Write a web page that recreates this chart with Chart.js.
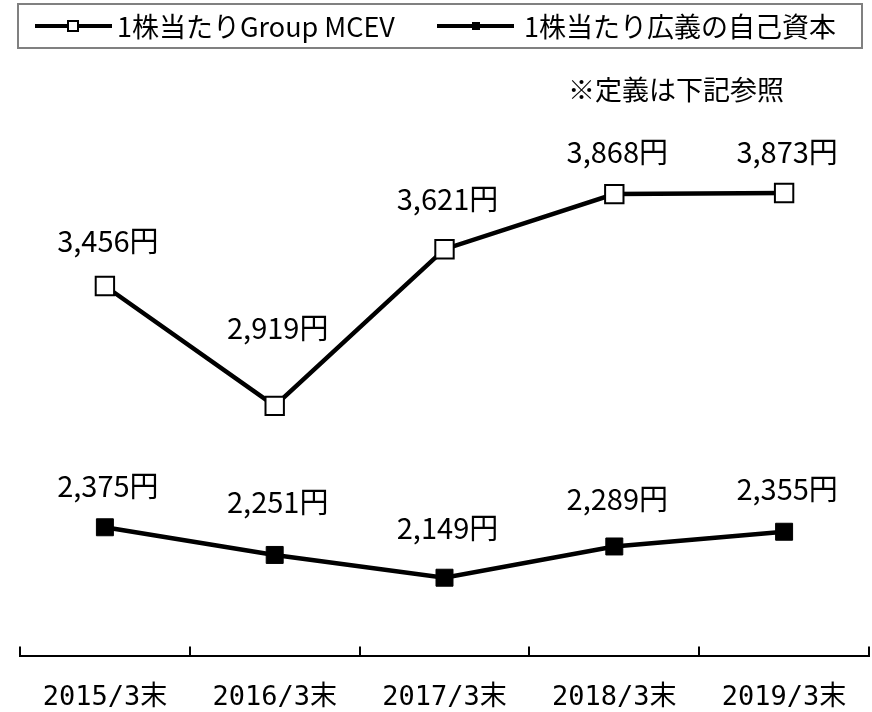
<!DOCTYPE html>
<html>
<head>
<meta charset="utf-8">
<script src="https://cdn.jsdelivr.net/npm/chart.js@4"></script>
<style>
  body { margin: 0; background: #fff; }
  #wrap { position: relative; width: 872px; height: 712px; overflow: hidden; font-family: "Noto Sans CJK JP", sans-serif; color: #000; }
  #chart { position: absolute; left: 0; top: 0; }
  .legend { position: absolute; left: 17px; top: 3px; width: 842px; height: 42px; border: 2px solid #808080; }
  .item { position: absolute; top: 0; height: 42px; line-height: 42px; font-size: 27px; white-space: nowrap; }
  .mark { position: absolute; top: 19px; width: 77px; height: 4px; background: #000; }
  .mark i { position: absolute; box-sizing: border-box; }
  .note { position: absolute; left: 568px; top: 70px; font-size: 27px; line-height: 38px; }
</style>
</head>
<body>
<div id="wrap">
  <!-- canvas is a little larger than the page; the axis label padding counts twice in Chart.js -->
  <canvas id="chart" width="884" height="740"></canvas>
  <div class="legend">
    <div class="mark" style="left:16px"><i style="background:#fff;border:2px solid #000;width:12px;height:12px;left:32px;top:-4px"></i></div>
    <div class="item" style="left:98px">1株当たりGroup MCEV</div>
    <div class="mark" style="left:418px"><i style="background:#000;width:8px;height:8px;left:35px;top:-2px"></i></div>
    <div class="item" style="left:505px">1株当たり広義の自己資本</div>
  </div>
  <div class="note">※定義は下記参照</div>
</div>
<script>
// data
const categories = ["2015/3末", "2016/3末", "2017/3末", "2018/3末", "2019/3末"];
const mcev = [3456, 2919, 3621, 3868, 3873];
const equity = [2375, 2251, 2149, 2289, 2355];

// how far above each point its label sits (label centre to point centre)
const mcevLabelGap = [45, 78, 50, 42, 41];
const equityLabelGap = [41, 53, 50, 47, 43];

const fmt = v => v.toLocaleString("en-US") + "円";

// value labels over the points
const valueLabels = {
  id: "valueLabels",
  afterDatasetsDraw(chart) {
    const ctx = chart.ctx;
    ctx.save();
    ctx.font = '29px "Noto Sans CJK JP"';
    ctx.fillStyle = "#000";
    ctx.textAlign = "center";
    ctx.textBaseline = "middle";
    chart.data.datasets.forEach((ds, di) => {
      const gaps = di === 0 ? mcevLabelGap : equityLabelGap;
      chart.getDatasetMeta(di).data.forEach((pt, i) => {
        ctx.fillText(fmt(ds.data[i]), pt.x + 3, pt.y - gaps[i]);
      });
    });
    ctx.restore();
  }
};

// tick marks pointing up from the x axis, between categories
const upTicks = {
  id: "upTicks",
  afterDraw(chart) {
    const x = chart.scales.x;
    const ctx = chart.ctx;
    ctx.save();
    ctx.strokeStyle = "#000";
    ctx.lineWidth = 2;
    for (let i = 0; i <= categories.length; i++) {
      const px = Math.round(x.getPixelForValue(i - 0.5));
      ctx.beginPath();
      ctx.moveTo(px, x.top + 1);
      ctx.lineTo(px, x.top - 9);
      ctx.stroke();
    }
    ctx.restore();
  }
};

new Chart(document.getElementById("chart"), {
  type: "line",
  data: {
    labels: categories,
    datasets: [
      {
        label: "1株当たりGroup MCEV",
        data: mcev,
        borderColor: "#000",
        borderWidth: 4.5,
        pointStyle: "rect",
        pointRadius: 13,
        pointBackgroundColor: "#fff",
        pointBorderColor: "#000",
        pointBorderWidth: 2
      },
      {
        label: "1株当たり広義の自己資本",
        data: equity,
        borderColor: "#000",
        borderWidth: 4.5,
        pointStyle: "rect",
        pointRadius: 12,
        pointBackgroundColor: "#000",
        pointBorderColor: "#000",
        pointBorderWidth: 1
      }
    ]
  },
  options: {
    responsive: false,
    animation: false,
    layout: { padding: { left: 20, right: 4, top: 120, bottom: 0 } },
    plugins: {
      legend: { display: false },
      tooltip: { enabled: false }
    },
    scales: {
      x: {
        offset: true,
        grid: { display: false, drawTicks: false },
        border: { display: true, color: "#000", width: 2 },
        ticks: {
          padding: 26,
          color: "#000",
          font: { family: '"DejaVu Sans Mono", "Noto Sans CJK JP"', size: 27 }
        }
      },
      y: {
        display: false,
        min: 1800,
        max: 4200
      }
    }
  },
  plugins: [valueLabels, upTicks]
});
</script>
</body>
</html>
